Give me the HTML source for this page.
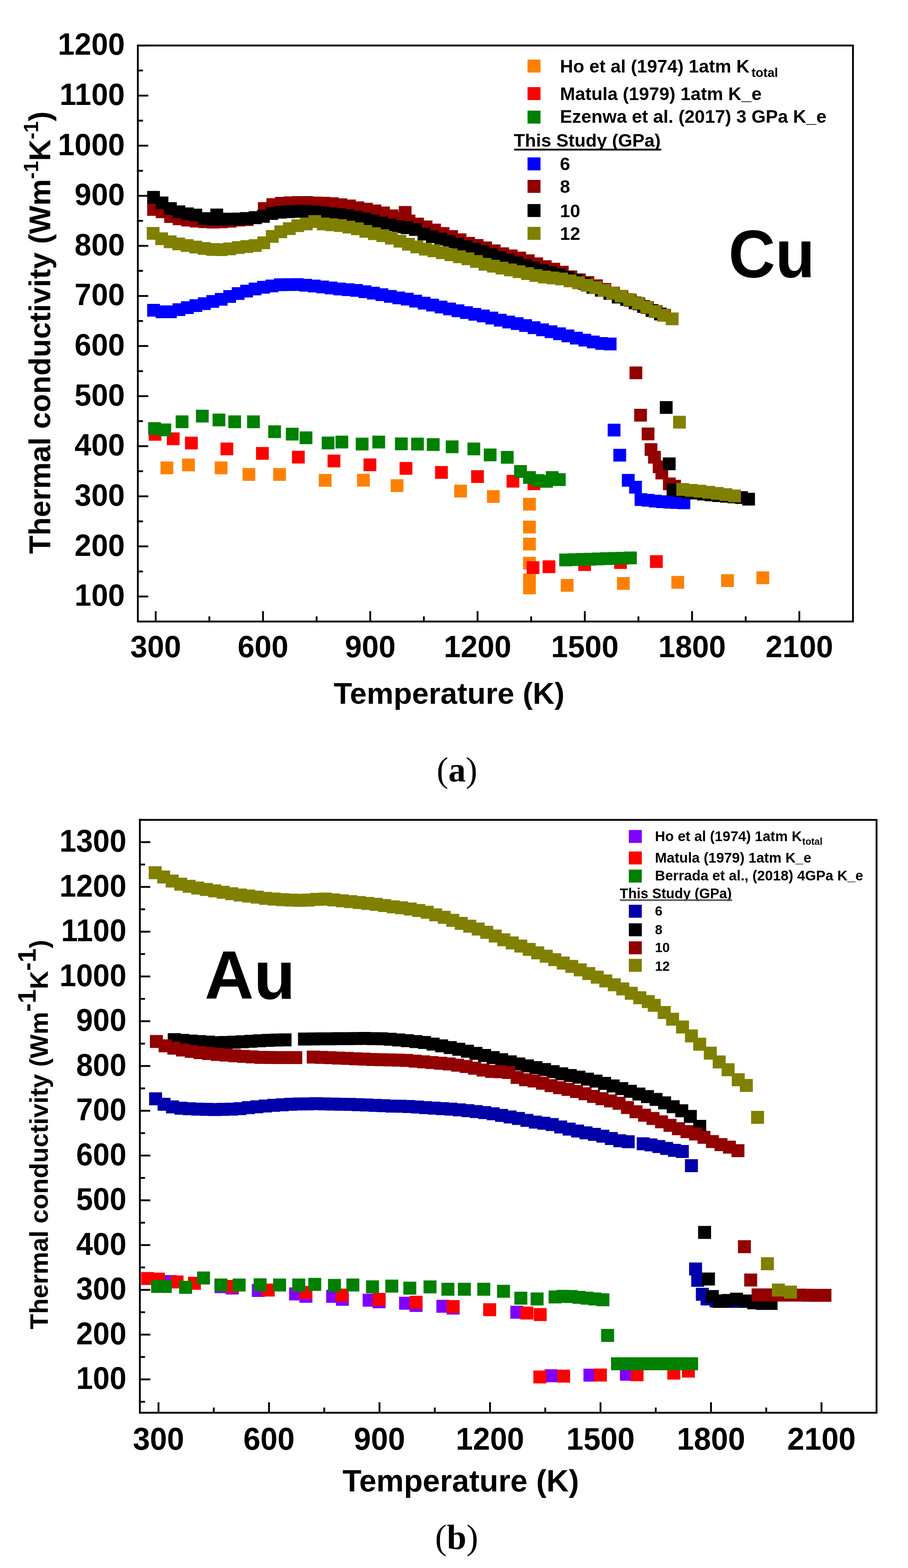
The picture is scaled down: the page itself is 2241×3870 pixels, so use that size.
<!DOCTYPE html>
<html><head><meta charset="utf-8"><title>Thermal conductivity of Cu and Au</title><style>html,body{margin:0;padding:0;background:#fff;}svg{display:block;}</style></head><body>
<svg width="2241" height="3870" viewBox="0 0 2241 3870">
<rect width="2241" height="3870" fill="#fff"/>
<rect x="340.2" y="112.3" width="1765.0" height="1421.7" fill="none" stroke="#000" stroke-width="4.5"/>
<path d="M337.9 1472.2H365.9M337.9 1348.6H365.9M337.9 1224.9H365.9M337.9 1101.3H365.9M337.9 977.7H365.9M337.9 854.1H365.9M337.9 730.4H365.9M337.9 606.8H365.9M337.9 483.2H365.9M337.9 359.6H365.9M337.9 235.9H365.9M337.9 112.3H365.9" stroke="#000" stroke-width="4.5"/>
<path d="M337.9 1410.4H352.9M337.9 1286.7H352.9M337.9 1163.1H352.9M337.9 1039.5H352.9M337.9 915.9H352.9M337.9 792.2H352.9M337.9 668.6H352.9M337.9 545.0H352.9M337.9 421.4H352.9M337.9 297.7H352.9M337.9 174.1H352.9" stroke="#000" stroke-width="4.5"/>
<path d="M384.3 1536.2V1508.2M649.1 1536.2V1508.2M913.8 1536.2V1508.2M1178.6 1536.2V1508.2M1443.3 1536.2V1508.2M1708.1 1536.2V1508.2M1972.8 1536.2V1508.2" stroke="#000" stroke-width="4.5"/>
<path d="M516.7 1536.2V1521.2M781.4 1536.2V1521.2M1046.2 1536.2V1521.2M1310.9 1536.2V1521.2M1575.7 1536.2V1521.2M1840.4 1536.2V1521.2" stroke="#000" stroke-width="4.5"/>
<text transform="translate(308.0 1495.2) scale(0.971 1.000)" font-size="76.5" text-anchor="end" font-family="'Liberation Sans', Arial, sans-serif" font-weight="bold" >100</text>
<text transform="translate(308.0 1371.6) scale(0.971 1.000)" font-size="76.5" text-anchor="end" font-family="'Liberation Sans', Arial, sans-serif" font-weight="bold" >200</text>
<text transform="translate(308.0 1247.9) scale(0.971 1.000)" font-size="76.5" text-anchor="end" font-family="'Liberation Sans', Arial, sans-serif" font-weight="bold" >300</text>
<text transform="translate(308.0 1124.3) scale(0.971 1.000)" font-size="76.5" text-anchor="end" font-family="'Liberation Sans', Arial, sans-serif" font-weight="bold" >400</text>
<text transform="translate(308.0 1000.7) scale(0.971 1.000)" font-size="76.5" text-anchor="end" font-family="'Liberation Sans', Arial, sans-serif" font-weight="bold" >500</text>
<text transform="translate(308.0 877.1) scale(0.971 1.000)" font-size="76.5" text-anchor="end" font-family="'Liberation Sans', Arial, sans-serif" font-weight="bold" >600</text>
<text transform="translate(308.0 753.4) scale(0.971 1.000)" font-size="76.5" text-anchor="end" font-family="'Liberation Sans', Arial, sans-serif" font-weight="bold" >700</text>
<text transform="translate(308.0 629.8) scale(0.971 1.000)" font-size="76.5" text-anchor="end" font-family="'Liberation Sans', Arial, sans-serif" font-weight="bold" >800</text>
<text transform="translate(308.0 506.2) scale(0.971 1.000)" font-size="76.5" text-anchor="end" font-family="'Liberation Sans', Arial, sans-serif" font-weight="bold" >900</text>
<text transform="translate(308.0 382.6) scale(0.971 1.000)" font-size="76.5" text-anchor="end" font-family="'Liberation Sans', Arial, sans-serif" font-weight="bold" >1000</text>
<text transform="translate(308.0 258.9) scale(0.971 1.000)" font-size="76.5" text-anchor="end" font-family="'Liberation Sans', Arial, sans-serif" font-weight="bold" >1100</text>
<text transform="translate(308.0 135.3) scale(0.971 1.000)" font-size="76.5" text-anchor="end" font-family="'Liberation Sans', Arial, sans-serif" font-weight="bold" >1200</text>
<text transform="translate(384.3 1622.0) scale(0.980 1.000)" font-size="76.5" text-anchor="middle" font-family="'Liberation Sans', Arial, sans-serif" font-weight="bold" >300</text>
<text transform="translate(649.1 1622.0) scale(0.980 1.000)" font-size="76.5" text-anchor="middle" font-family="'Liberation Sans', Arial, sans-serif" font-weight="bold" >600</text>
<text transform="translate(913.8 1622.0) scale(0.980 1.000)" font-size="76.5" text-anchor="middle" font-family="'Liberation Sans', Arial, sans-serif" font-weight="bold" >900</text>
<text transform="translate(1178.6 1622.0) scale(0.980 1.000)" font-size="76.5" text-anchor="middle" font-family="'Liberation Sans', Arial, sans-serif" font-weight="bold" >1200</text>
<text transform="translate(1443.3 1622.0) scale(0.980 1.000)" font-size="76.5" text-anchor="middle" font-family="'Liberation Sans', Arial, sans-serif" font-weight="bold" >1500</text>
<text transform="translate(1708.1 1622.0) scale(0.980 1.000)" font-size="76.5" text-anchor="middle" font-family="'Liberation Sans', Arial, sans-serif" font-weight="bold" >1800</text>
<text transform="translate(1972.8 1622.0) scale(0.980 1.000)" font-size="76.5" text-anchor="middle" font-family="'Liberation Sans', Arial, sans-serif" font-weight="bold" >2100</text>
<text x="823.5" y="1737.0" font-size="74.5" text-anchor="start" font-family="'Liberation Sans', Arial, sans-serif" font-weight="bold" >Temperature (K)</text>
<text transform="translate(124,1367) rotate(-90)" font-size="74" font-family="'Liberation Sans', Arial, sans-serif" font-weight="bold">Thermal conductivity (Wm<tspan font-size="50" dy="-30">-1</tspan><tspan dy="30">K</tspan><tspan font-size="50" dy="-30">-1</tspan><tspan dy="30">)</tspan></text>
<path fill="#FF8000" d="M396.2 1139.0h31.5v31.5h-31.5zM449.4 1131.8h31.5v31.5h-31.5zM530.0 1139.0h31.5v31.5h-31.5zM598.6 1155.2h31.5v31.5h-31.5zM674.2 1155.2h31.5v31.5h-31.5zM786.8 1169.7h31.5v31.5h-31.5zM881.2 1169.5h31.5v31.5h-31.5zM964.2 1182.7h31.5v31.5h-31.5zM1121.0 1196.2h31.5v31.5h-31.5zM1201.8 1209.8h31.5v31.5h-31.5zM1291.0 1228.7h31.5v31.5h-31.5zM1291.0 1285.0h31.5v31.5h-31.5zM1291.0 1327.0h31.5v31.5h-31.5zM1291.0 1374.2h31.5v31.5h-31.5zM1291.0 1415.2h31.5v31.5h-31.5zM1291.0 1435.2h31.5v31.5h-31.5zM1384.0 1429.0h31.5v31.5h-31.5zM1522.8 1424.2h31.5v31.5h-31.5zM1657.0 1421.5h31.5v31.5h-31.5zM1779.8 1417.2h31.5v31.5h-31.5zM1867.0 1410.2h31.5v31.5h-31.5z"/>
<path fill="#FF0000" d="M366.9 1056.2h31.5v31.5h-31.5zM411.8 1067.2h31.5v31.5h-31.5zM456.6 1077.8h31.5v31.5h-31.5zM544.2 1092.2h31.5v31.5h-31.5zM631.9 1103.2h31.5v31.5h-31.5zM720.6 1112.5h31.5v31.5h-31.5zM808.5 1122.0h31.5v31.5h-31.5zM897.2 1131.5h31.5v31.5h-31.5zM986.2 1140.2h31.5v31.5h-31.5zM1073.8 1150.2h31.5v31.5h-31.5zM1162.8 1160.5h31.5v31.5h-31.5zM1250.2 1172.0h31.5v31.5h-31.5zM1302.0 1178.2h31.5v31.5h-31.5zM1299.8 1385.2h31.5v31.5h-31.5zM1339.2 1383.0h31.5v31.5h-31.5zM1427.2 1377.8h31.5v31.5h-31.5zM1515.7 1372.8h31.5v31.5h-31.5zM1604.2 1370.2h31.5v31.5h-31.5z"/>
<path fill="#008000" d="M365.6 1042.0h31.5v31.5h-31.5zM390.9 1045.2h31.5v31.5h-31.5zM433.6 1025.2h31.5v31.5h-31.5zM483.6 1011.2h31.5v31.5h-31.5zM524.6 1020.8h31.5v31.5h-31.5zM563.5 1025.2h31.5v31.5h-31.5zM609.8 1025.2h31.5v31.5h-31.5zM662.0 1049.7h31.5v31.5h-31.5zM705.5 1055.7h31.5v31.5h-31.5zM739.5 1064.8h31.5v31.5h-31.5zM794.0 1077.5h31.5v31.5h-31.5zM828.0 1075.2h31.5v31.5h-31.5zM878.0 1080.2h31.5v31.5h-31.5zM919.0 1075.2h31.5v31.5h-31.5zM974.8 1079.8h31.5v31.5h-31.5zM1014.7 1080.2h31.5v31.5h-31.5zM1053.5 1081.5h31.5v31.5h-31.5zM1100.2 1087.0h31.5v31.5h-31.5zM1153.7 1092.2h31.5v31.5h-31.5zM1194.0 1107.0h31.5v31.5h-31.5zM1236.2 1113.0h31.5v31.5h-31.5zM1268.8 1148.0h31.5v31.5h-31.5zM1291.0 1162.7h31.5v31.5h-31.5zM1311.8 1170.2h31.5v31.5h-31.5zM1333.2 1172.2h31.5v31.5h-31.5zM1347.2 1162.7h31.5v31.5h-31.5zM1364.7 1168.0h31.5v31.5h-31.5zM1380.2 1366.2h31.5v31.5h-31.5zM1400.2 1365.6h31.5v31.5h-31.5zM1420.2 1365.0h31.5v31.5h-31.5zM1440.2 1364.4h31.5v31.5h-31.5zM1460.2 1363.8h31.5v31.5h-31.5zM1480.2 1363.1h31.5v31.5h-31.5zM1500.2 1362.5h31.5v31.5h-31.5zM1520.2 1361.9h31.5v31.5h-31.5zM1540.2 1361.2h31.5v31.5h-31.5z"/>
<path fill="#0000FF" d="M363.2 749.9h31.5v31.5h-31.5zM384.1 753.8h31.5v31.5h-31.5zM405.0 753.8h31.5v31.5h-31.5zM425.9 748.4h31.5v31.5h-31.5zM446.7 743.4h31.5v31.5h-31.5zM467.6 738.6h31.5v31.5h-31.5zM488.5 733.7h31.5v31.5h-31.5zM509.3 728.3h31.5v31.5h-31.5zM530.2 723.0h31.5v31.5h-31.5zM551.1 715.9h31.5v31.5h-31.5zM572.0 708.8h31.5v31.5h-31.5zM592.8 702.8h31.5v31.5h-31.5zM613.7 697.4h31.5v31.5h-31.5zM634.6 693.2h31.5v31.5h-31.5zM655.4 689.9h31.5v31.5h-31.5zM676.3 686.9h31.5v31.5h-31.5zM697.2 686.8h31.5v31.5h-31.5zM718.0 686.6h31.5v31.5h-31.5zM738.9 688.2h31.5v31.5h-31.5zM759.8 690.2h31.5v31.5h-31.5zM780.7 692.5h31.5v31.5h-31.5zM801.5 695.0h31.5v31.5h-31.5zM822.4 697.4h31.5v31.5h-31.5zM843.3 699.2h31.5v31.5h-31.5zM864.1 701.1h31.5v31.5h-31.5zM885.0 704.3h31.5v31.5h-31.5zM905.9 707.7h31.5v31.5h-31.5zM926.8 711.5h31.5v31.5h-31.5zM947.6 715.7h31.5v31.5h-31.5zM968.5 719.4h31.5v31.5h-31.5zM989.4 722.5h31.5v31.5h-31.5zM1010.2 727.4h31.5v31.5h-31.5zM1031.1 732.4h31.5v31.5h-31.5zM1052.0 737.2h31.5v31.5h-31.5zM1072.8 742.0h31.5v31.5h-31.5zM1093.7 746.7h31.5v31.5h-31.5zM1114.6 751.3h31.5v31.5h-31.5zM1135.5 755.7h31.5v31.5h-31.5zM1156.3 759.9h31.5v31.5h-31.5zM1177.2 764.1h31.5v31.5h-31.5zM1198.1 769.3h31.5v31.5h-31.5zM1218.9 774.5h31.5v31.5h-31.5zM1239.8 779.0h31.5v31.5h-31.5zM1260.7 783.1h31.5v31.5h-31.5zM1281.5 787.8h31.5v31.5h-31.5zM1302.4 793.0h31.5v31.5h-31.5zM1323.3 798.2h31.5v31.5h-31.5zM1344.2 803.1h31.5v31.5h-31.5zM1365.0 808.0h31.5v31.5h-31.5zM1385.9 813.3h31.5v31.5h-31.5zM1406.8 818.8h31.5v31.5h-31.5zM1427.6 823.7h31.5v31.5h-31.5zM1448.5 828.3h31.5v31.5h-31.5zM1469.4 832.0h31.5v31.5h-31.5zM1490.2 833.2h31.5v31.5h-31.5zM1499.8 1045.8h31.5v31.5h-31.5zM1513.8 1107.8h31.5v31.5h-31.5zM1534.8 1169.8h31.5v31.5h-31.5zM1552.8 1186.8h31.5v31.5h-31.5zM1566.2 1217.2h31.5v31.5h-31.5zM1583.9 1219.1h31.5v31.5h-31.5zM1601.6 1221.0h31.5v31.5h-31.5zM1619.2 1222.4h31.5v31.5h-31.5zM1636.9 1223.7h31.5v31.5h-31.5zM1654.6 1224.6h31.5v31.5h-31.5zM1672.2 1225.2h31.5v31.5h-31.5z"/>
<path fill="#930000" d="M363.2 501.2h31.5v31.5h-31.5zM384.3 507.1h31.5v31.5h-31.5zM405.3 518.8h31.5v31.5h-31.5zM426.3 524.3h31.5v31.5h-31.5zM447.3 527.5h31.5v31.5h-31.5zM468.3 530.1h31.5v31.5h-31.5zM489.4 531.6h31.5v31.5h-31.5zM510.4 532.5h31.5v31.5h-31.5zM531.4 531.7h31.5v31.5h-31.5zM552.4 530.2h31.5v31.5h-31.5zM573.4 527.4h31.5v31.5h-31.5zM594.4 526.2h31.5v31.5h-31.5zM615.5 521.1h31.5v31.5h-31.5zM636.5 499.1h31.5v31.5h-31.5zM657.5 489.3h31.5v31.5h-31.5zM678.5 486.0h31.5v31.5h-31.5zM699.5 484.8h31.5v31.5h-31.5zM720.5 484.1h31.5v31.5h-31.5zM741.5 484.1h31.5v31.5h-31.5zM762.6 485.2h31.5v31.5h-31.5zM783.6 485.7h31.5v31.5h-31.5zM804.6 487.1h31.5v31.5h-31.5zM825.6 489.4h31.5v31.5h-31.5zM846.6 492.6h31.5v31.5h-31.5zM867.6 497.0h31.5v31.5h-31.5zM888.7 500.5h31.5v31.5h-31.5zM909.7 504.8h31.5v31.5h-31.5zM930.7 509.8h31.5v31.5h-31.5zM951.7 517.0h31.5v31.5h-31.5zM972.7 523.5h31.5v31.5h-31.5zM993.8 529.7h31.5v31.5h-31.5zM1014.8 537.2h31.5v31.5h-31.5zM1035.8 544.3h31.5v31.5h-31.5zM1056.8 551.9h31.5v31.5h-31.5zM1077.8 560.6h31.5v31.5h-31.5zM1098.8 567.9h31.5v31.5h-31.5zM1119.8 576.0h31.5v31.5h-31.5zM1140.9 584.7h31.5v31.5h-31.5zM1161.9 590.1h31.5v31.5h-31.5zM1182.9 596.0h31.5v31.5h-31.5zM1203.9 603.3h31.5v31.5h-31.5zM1224.9 610.4h31.5v31.5h-31.5zM1246.0 615.7h31.5v31.5h-31.5zM1267.0 620.9h31.5v31.5h-31.5zM1288.0 627.8h31.5v31.5h-31.5zM1309.0 635.3h31.5v31.5h-31.5zM1330.0 642.2h31.5v31.5h-31.5zM1351.0 648.5h31.5v31.5h-31.5zM1372.0 656.1h31.5v31.5h-31.5zM1393.1 667.4h31.5v31.5h-31.5zM1414.1 675.0h31.5v31.5h-31.5zM1435.1 681.4h31.5v31.5h-31.5zM1456.1 689.4h31.5v31.5h-31.5zM1477.1 698.5h31.5v31.5h-31.5zM1498.2 707.5h31.5v31.5h-31.5zM1519.2 716.6h31.5v31.5h-31.5zM1540.2 725.5h31.5v31.5h-31.5zM1561.2 734.5h31.5v31.5h-31.5zM1582.2 743.4h31.5v31.5h-31.5zM1603.2 752.8h31.5v31.5h-31.5zM1624.2 762.2h31.5v31.5h-31.5zM984.2 508.5h31.5v31.5h-31.5zM1553.7 904.5h31.5v31.5h-31.5zM1565.2 1009.0h31.5v31.5h-31.5zM1583.7 1055.2h31.5v31.5h-31.5zM1591.0 1093.8h31.5v31.5h-31.5zM1599.5 1112.8h31.5v31.5h-31.5zM1611.0 1136.2h31.5v31.5h-31.5zM1617.7 1151.8h31.5v31.5h-31.5zM1636.2 1178.5h31.5v31.5h-31.5zM1649.2 1184.2h31.5v31.5h-31.5z"/>
<path fill="#000000" d="M363.2 471.2h31.5v31.5h-31.5zM384.1 485.0h31.5v31.5h-31.5zM404.9 499.1h31.5v31.5h-31.5zM425.8 507.0h31.5v31.5h-31.5zM446.6 511.9h31.5v31.5h-31.5zM467.5 515.0h31.5v31.5h-31.5zM488.4 523.8h31.5v31.5h-31.5zM509.2 525.2h31.5v31.5h-31.5zM530.0 525.2h31.5v31.5h-31.5zM550.9 525.1h31.5v31.5h-31.5zM571.8 524.8h31.5v31.5h-31.5zM592.6 523.6h31.5v31.5h-31.5zM613.5 521.8h31.5v31.5h-31.5zM634.3 518.2h31.5v31.5h-31.5zM655.1 511.3h31.5v31.5h-31.5zM676.0 508.1h31.5v31.5h-31.5zM696.9 506.7h31.5v31.5h-31.5zM717.7 506.1h31.5v31.5h-31.5zM738.5 505.8h31.5v31.5h-31.5zM759.4 507.3h31.5v31.5h-31.5zM780.2 509.6h31.5v31.5h-31.5zM801.1 512.0h31.5v31.5h-31.5zM822.0 514.1h31.5v31.5h-31.5zM842.8 516.4h31.5v31.5h-31.5zM863.6 520.5h31.5v31.5h-31.5zM884.5 524.6h31.5v31.5h-31.5zM905.4 529.5h31.5v31.5h-31.5zM926.2 534.7h31.5v31.5h-31.5zM947.0 539.6h31.5v31.5h-31.5zM967.9 543.9h31.5v31.5h-31.5zM988.8 546.2h31.5v31.5h-31.5zM1009.6 550.7h31.5v31.5h-31.5zM1030.5 562.1h31.5v31.5h-31.5zM1051.3 568.4h31.5v31.5h-31.5zM1072.2 574.6h31.5v31.5h-31.5zM1093.0 580.8h31.5v31.5h-31.5zM1113.8 587.0h31.5v31.5h-31.5zM1134.7 593.1h31.5v31.5h-31.5zM1155.5 599.2h31.5v31.5h-31.5zM1176.4 605.3h31.5v31.5h-31.5zM1197.2 612.7h31.5v31.5h-31.5zM1218.1 620.1h31.5v31.5h-31.5zM1239.0 626.7h31.5v31.5h-31.5zM1259.8 633.0h31.5v31.5h-31.5zM1280.7 639.3h31.5v31.5h-31.5zM1301.5 645.6h31.5v31.5h-31.5zM1322.3 651.8h31.5v31.5h-31.5zM1343.2 657.0h31.5v31.5h-31.5zM1364.0 662.2h31.5v31.5h-31.5zM1384.9 668.7h31.5v31.5h-31.5zM1405.8 675.5h31.5v31.5h-31.5zM1426.6 684.0h31.5v31.5h-31.5zM1447.5 693.4h31.5v31.5h-31.5zM1468.3 700.8h31.5v31.5h-31.5zM1489.2 708.5h31.5v31.5h-31.5zM1510.0 717.5h31.5v31.5h-31.5zM1530.8 723.4h31.5v31.5h-31.5zM1551.7 731.7h31.5v31.5h-31.5zM1572.5 740.7h31.5v31.5h-31.5zM1593.4 750.5h31.5v31.5h-31.5zM1614.2 759.2h31.5v31.5h-31.5zM519.2 514.8h31.5v31.5h-31.5zM1628.5 989.9h31.5v31.5h-31.5zM1636.0 1129.0h31.5v31.5h-31.5zM1645.2 1193.2h31.5v31.5h-31.5zM1664.2 1195.2h31.5v31.5h-31.5zM1683.0 1198.4h31.5v31.5h-31.5zM1701.8 1201.2h31.5v31.5h-31.5zM1720.5 1203.8h31.5v31.5h-31.5zM1739.2 1205.8h31.5v31.5h-31.5zM1758.0 1207.6h31.5v31.5h-31.5zM1776.8 1209.1h31.5v31.5h-31.5zM1795.5 1210.7h31.5v31.5h-31.5zM1814.2 1212.2h31.5v31.5h-31.5zM1831.8 1216.2h31.5v31.5h-31.5z"/>
<path fill="#808000" d="M362.2 560.2h31.5v31.5h-31.5zM383.2 573.4h31.5v31.5h-31.5zM404.2 581.1h31.5v31.5h-31.5zM425.2 586.3h31.5v31.5h-31.5zM446.2 590.3h31.5v31.5h-31.5zM467.2 594.0h31.5v31.5h-31.5zM488.2 597.6h31.5v31.5h-31.5zM509.2 600.1h31.5v31.5h-31.5zM530.2 600.6h31.5v31.5h-31.5zM551.2 598.4h31.5v31.5h-31.5zM572.2 595.2h31.5v31.5h-31.5zM593.2 592.8h31.5v31.5h-31.5zM614.2 590.3h31.5v31.5h-31.5zM635.2 583.4h31.5v31.5h-31.5zM656.2 567.8h31.5v31.5h-31.5zM677.2 556.2h31.5v31.5h-31.5zM698.2 548.6h31.5v31.5h-31.5zM719.2 541.3h31.5v31.5h-31.5zM740.2 536.9h31.5v31.5h-31.5zM761.2 531.0h31.5v31.5h-31.5zM782.2 537.1h31.5v31.5h-31.5zM803.2 539.1h31.5v31.5h-31.5zM824.2 541.1h31.5v31.5h-31.5zM845.2 544.7h31.5v31.5h-31.5zM866.2 549.0h31.5v31.5h-31.5zM887.2 555.2h31.5v31.5h-31.5zM908.2 561.0h31.5v31.5h-31.5zM929.2 566.1h31.5v31.5h-31.5zM950.2 572.1h31.5v31.5h-31.5zM971.2 579.6h31.5v31.5h-31.5zM992.2 586.9h31.5v31.5h-31.5zM1013.2 593.7h31.5v31.5h-31.5zM1034.2 599.2h31.5v31.5h-31.5zM1055.2 603.3h31.5v31.5h-31.5zM1076.2 607.9h31.5v31.5h-31.5zM1097.2 613.1h31.5v31.5h-31.5zM1118.2 618.1h31.5v31.5h-31.5zM1139.2 623.1h31.5v31.5h-31.5zM1160.2 629.5h31.5v31.5h-31.5zM1181.2 636.4h31.5v31.5h-31.5zM1202.2 641.2h31.5v31.5h-31.5zM1223.2 646.0h31.5v31.5h-31.5zM1244.2 650.4h31.5v31.5h-31.5zM1265.2 654.8h31.5v31.5h-31.5zM1286.2 659.5h31.5v31.5h-31.5zM1307.2 664.3h31.5v31.5h-31.5zM1328.2 668.1h31.5v31.5h-31.5zM1349.2 670.3h31.5v31.5h-31.5zM1370.2 672.7h31.5v31.5h-31.5zM1391.2 677.5h31.5v31.5h-31.5zM1412.2 682.3h31.5v31.5h-31.5zM1433.2 688.2h31.5v31.5h-31.5zM1454.2 694.3h31.5v31.5h-31.5zM1475.2 700.9h31.5v31.5h-31.5zM1496.2 707.9h31.5v31.5h-31.5zM1517.2 715.3h31.5v31.5h-31.5zM1538.2 724.1h31.5v31.5h-31.5zM1559.2 732.8h31.5v31.5h-31.5zM1580.2 742.8h31.5v31.5h-31.5zM1601.2 752.9h31.5v31.5h-31.5zM1622.2 762.2h31.5v31.5h-31.5zM1643.2 771.2h31.5v31.5h-31.5zM1661.2 1026.2h31.5v31.5h-31.5zM1669.2 1192.2h31.5v31.5h-31.5zM1690.6 1194.4h31.5v31.5h-31.5zM1711.9 1196.6h31.5v31.5h-31.5zM1733.2 1199.2h31.5v31.5h-31.5zM1754.6 1202.0h31.5v31.5h-31.5zM1775.9 1205.1h31.5v31.5h-31.5zM1797.2 1208.2h31.5v31.5h-31.5z"/>
<rect x="1302.0" y="147.0" width="32" height="32" fill="#FF8000"/>
<rect x="1302.0" y="215.0" width="32" height="32" fill="#FF0000"/>
<rect x="1302.0" y="273.0" width="32" height="32" fill="#008000"/>
<rect x="1302.0" y="388.5" width="32" height="32" fill="#0000FF"/>
<rect x="1302.0" y="444.0" width="32" height="32" fill="#930000"/>
<rect x="1302.0" y="503.6" width="32" height="32" fill="#000000"/>
<rect x="1302.0" y="560.0" width="32" height="32" fill="#808000"/>
<text x="1382.0" y="178.8" font-size="45.0" text-anchor="start" font-family="'Liberation Sans', Arial, sans-serif" font-weight="bold" >Ho et al (1974) 1atm K<tspan font-size="31" dx="5" dy="11">total</tspan></text>
<text x="1382.0" y="246.5" font-size="45.0" text-anchor="start" font-family="'Liberation Sans', Arial, sans-serif" font-weight="bold" >Matula (1979) 1atm K_e</text>
<text x="1382.0" y="303.3" font-size="45.0" text-anchor="start" font-family="'Liberation Sans', Arial, sans-serif" font-weight="bold" >Ezenwa et al. (2017) 3 GPa K_e</text>
<text x="1268.0" y="361.7" font-size="45.0" text-anchor="start" font-family="'Liberation Sans', Arial, sans-serif" font-weight="bold" >This Study (GPa)</text>
<rect x="1269" y="367" width="363" height="4.5" fill="#000"/>
<text x="1382.0" y="419.6" font-size="45.0" text-anchor="start" font-family="'Liberation Sans', Arial, sans-serif" font-weight="bold" >6</text>
<text x="1382.0" y="476.2" font-size="45.0" text-anchor="start" font-family="'Liberation Sans', Arial, sans-serif" font-weight="bold" >8</text>
<text x="1382.0" y="535.8" font-size="45.0" text-anchor="start" font-family="'Liberation Sans', Arial, sans-serif" font-weight="bold" >10</text>
<text x="1382.0" y="592.0" font-size="45.0" text-anchor="start" font-family="'Liberation Sans', Arial, sans-serif" font-weight="bold" >12</text>
<text transform="translate(1798.0 684.0) scale(1.000 1.040)" font-size="160.0" text-anchor="start" font-family="'Liberation Sans', Arial, sans-serif" font-weight="bold" >Cu</text>
<text x="1128" y="1929" font-size="86" text-anchor="middle" font-family="'Liberation Serif', 'Times New Roman', serif" font-weight="bold"><tspan font-weight="normal">(</tspan>a<tspan font-weight="normal">)</tspan></text>
<rect x="345.2" y="2023.6" width="1818.2" height="1463.2" fill="none" stroke="#000" stroke-width="4.5"/>
<path d="M342.9 3404.5H370.9M342.9 3294.0H370.9M342.9 3183.5H370.9M342.9 3073.0H370.9M342.9 2962.5H370.9M342.9 2852.0H370.9M342.9 2741.5H370.9M342.9 2631.0H370.9M342.9 2520.5H370.9M342.9 2410.0H370.9M342.9 2299.5H370.9M342.9 2189.0H370.9M342.9 2078.5H370.9" stroke="#000" stroke-width="4.5"/>
<path d="M342.9 3459.8H357.9M342.9 3349.2H357.9M342.9 3238.8H357.9M342.9 3128.2H357.9M342.9 3017.8H357.9M342.9 2907.2H357.9M342.9 2796.8H357.9M342.9 2686.2H357.9M342.9 2575.8H357.9M342.9 2465.2H357.9M342.9 2354.8H357.9M342.9 2244.2H357.9M342.9 2133.8H357.9M342.9 2023.2H357.9" stroke="#000" stroke-width="4.5"/>
<path d="M391.2 3489.1V3461.1M663.9 3489.1V3461.1M936.6 3489.1V3461.1M1209.4 3489.1V3461.1M1482.1 3489.1V3461.1M1754.8 3489.1V3461.1M2027.5 3489.1V3461.1" stroke="#000" stroke-width="4.5"/>
<path d="M527.6 3489.1V3474.1M800.3 3489.1V3474.1M1073.0 3489.1V3474.1M1345.7 3489.1V3474.1M1618.4 3489.1V3474.1M1891.1 3489.1V3474.1" stroke="#000" stroke-width="4.5"/>
<text transform="translate(312.0 3428.0) scale(0.953 1.000)" font-size="78.0" text-anchor="end" font-family="'Liberation Sans', Arial, sans-serif" font-weight="bold" >100</text>
<text transform="translate(312.0 3317.5) scale(0.953 1.000)" font-size="78.0" text-anchor="end" font-family="'Liberation Sans', Arial, sans-serif" font-weight="bold" >200</text>
<text transform="translate(312.0 3207.0) scale(0.953 1.000)" font-size="78.0" text-anchor="end" font-family="'Liberation Sans', Arial, sans-serif" font-weight="bold" >300</text>
<text transform="translate(312.0 3096.5) scale(0.953 1.000)" font-size="78.0" text-anchor="end" font-family="'Liberation Sans', Arial, sans-serif" font-weight="bold" >400</text>
<text transform="translate(312.0 2986.0) scale(0.953 1.000)" font-size="78.0" text-anchor="end" font-family="'Liberation Sans', Arial, sans-serif" font-weight="bold" >500</text>
<text transform="translate(312.0 2875.5) scale(0.953 1.000)" font-size="78.0" text-anchor="end" font-family="'Liberation Sans', Arial, sans-serif" font-weight="bold" >600</text>
<text transform="translate(312.0 2765.0) scale(0.953 1.000)" font-size="78.0" text-anchor="end" font-family="'Liberation Sans', Arial, sans-serif" font-weight="bold" >700</text>
<text transform="translate(312.0 2654.5) scale(0.953 1.000)" font-size="78.0" text-anchor="end" font-family="'Liberation Sans', Arial, sans-serif" font-weight="bold" >800</text>
<text transform="translate(312.0 2544.0) scale(0.953 1.000)" font-size="78.0" text-anchor="end" font-family="'Liberation Sans', Arial, sans-serif" font-weight="bold" >900</text>
<text transform="translate(312.0 2433.5) scale(0.953 1.000)" font-size="78.0" text-anchor="end" font-family="'Liberation Sans', Arial, sans-serif" font-weight="bold" >1000</text>
<text transform="translate(312.0 2323.0) scale(0.953 1.000)" font-size="78.0" text-anchor="end" font-family="'Liberation Sans', Arial, sans-serif" font-weight="bold" >1100</text>
<text transform="translate(312.0 2212.5) scale(0.953 1.000)" font-size="78.0" text-anchor="end" font-family="'Liberation Sans', Arial, sans-serif" font-weight="bold" >1200</text>
<text transform="translate(312.0 2102.0) scale(0.953 1.000)" font-size="78.0" text-anchor="end" font-family="'Liberation Sans', Arial, sans-serif" font-weight="bold" >1300</text>
<text transform="translate(391.2 3578.0) scale(0.967 1.000)" font-size="78.5" text-anchor="middle" font-family="'Liberation Sans', Arial, sans-serif" font-weight="bold" >300</text>
<text transform="translate(663.9 3578.0) scale(0.967 1.000)" font-size="78.5" text-anchor="middle" font-family="'Liberation Sans', Arial, sans-serif" font-weight="bold" >600</text>
<text transform="translate(936.6 3578.0) scale(0.967 1.000)" font-size="78.5" text-anchor="middle" font-family="'Liberation Sans', Arial, sans-serif" font-weight="bold" >900</text>
<text transform="translate(1209.4 3578.0) scale(0.967 1.000)" font-size="78.5" text-anchor="middle" font-family="'Liberation Sans', Arial, sans-serif" font-weight="bold" >1200</text>
<text transform="translate(1482.1 3578.0) scale(0.967 1.000)" font-size="78.5" text-anchor="middle" font-family="'Liberation Sans', Arial, sans-serif" font-weight="bold" >1500</text>
<text transform="translate(1754.8 3578.0) scale(0.967 1.000)" font-size="78.5" text-anchor="middle" font-family="'Liberation Sans', Arial, sans-serif" font-weight="bold" >1800</text>
<text transform="translate(2027.5 3578.0) scale(0.967 1.000)" font-size="78.5" text-anchor="middle" font-family="'Liberation Sans', Arial, sans-serif" font-weight="bold" >2100</text>
<text x="845.5" y="3681.4" font-size="76.3" text-anchor="start" font-family="'Liberation Sans', Arial, sans-serif" font-weight="bold" >Temperature (K)</text>
<text transform="translate(118,3281) rotate(-90)" font-size="62.7" font-family="'Liberation Sans', Arial, sans-serif" font-weight="bold">Thermal conductivity (Wm<tspan dy="-30">-1</tspan><tspan dy="30">K</tspan><tspan dy="-30">-1</tspan><tspan dy="30">)</tspan></text>
<path fill="#8000FF" d="M404.0 3147.0h32v32h-32zM529.6 3159.8h32v32h-32zM557.4 3163.0h32v32h-32zM621.5 3169.0h32v32h-32zM713.5 3177.5h32v32h-32zM739.0 3183.5h32v32h-32zM805.0 3183.5h32v32h-32zM829.0 3190.8h32v32h-32zM895.0 3193.0h32v32h-32zM919.7 3197.0h32v32h-32zM985.0 3200.5h32v32h-32zM1010.8 3206.0h32v32h-32zM1077.0 3208.0h32v32h-32zM1102.3 3212.5h32v32h-32zM1259.5 3222.7h32v32h-32zM1344.0 3379.5h32v32h-32zM1440.0 3378.0h32v32h-32zM1530.0 3375.7h32v32h-32z"/>
<path fill="#FF0000" d="M348.3 3139.5h32v32h-32zM375.0 3141.0h32v32h-32zM421.0 3148.0h32v32h-32zM463.8 3151.3h32v32h-32zM557.4 3159.0h32v32h-32zM646.0 3168.0h32v32h-32zM738.7 3174.0h32v32h-32zM828.0 3180.5h32v32h-32zM919.7 3191.0h32v32h-32zM1010.8 3198.2h32v32h-32zM1102.3 3208.7h32v32h-32zM1192.5 3216.4h32v32h-32zM1284.3 3224.7h32v32h-32zM1317.3 3228.5h32v32h-32zM1316.4 3382.5h32v32h-32zM1375.0 3380.5h32v32h-32zM1465.9 3377.8h32v32h-32zM1556.3 3377.0h32v32h-32zM1647.0 3373.0h32v32h-32zM1683.0 3368.0h32v32h-32z"/>
<path fill="#008000" d="M373.0 3159.0h32v32h-32zM392.0 3159.0h32v32h-32zM442.0 3161.3h32v32h-32zM486.3 3138.3h32v32h-32zM529.3 3155.4h32v32h-32zM574.2 3155.4h32v32h-32zM626.0 3155.0h32v32h-32zM674.0 3155.4h32v32h-32zM721.3 3155.4h32v32h-32zM760.8 3154.0h32v32h-32zM809.5 3156.5h32v32h-32zM854.9 3155.4h32v32h-32zM903.4 3160.0h32v32h-32zM951.0 3158.2h32v32h-32zM995.4 3163.3h32v32h-32zM1045.3 3160.3h32v32h-32zM1089.5 3166.0h32v32h-32zM1130.0 3166.0h32v32h-32zM1178.0 3166.0h32v32h-32zM1226.7 3171.0h32v32h-32zM1269.5 3188.0h32v32h-32zM1309.6 3190.0h32v32h-32zM1354.0 3185.0h32v32h-32zM1373.7 3183.4h32v32h-32zM1393.3 3184.1h32v32h-32zM1413.0 3185.9h32v32h-32zM1432.7 3187.9h32v32h-32zM1452.3 3189.9h32v32h-32zM1472.0 3192.0h32v32h-32zM1483.6 3280.0h32v32h-32zM1508.0 3350.0h32v32h-32zM1528.3 3350.0h32v32h-32zM1548.7 3350.0h32v32h-32zM1569.0 3350.0h32v32h-32zM1589.3 3350.0h32v32h-32zM1609.7 3350.0h32v32h-32zM1630.0 3350.0h32v32h-32zM1650.3 3350.0h32v32h-32zM1670.7 3350.0h32v32h-32zM1691.0 3350.0h32v32h-32z"/>
<path fill="#0000AA" d="M368.0 2696.0h32v32h-32zM388.8 2709.6h32v32h-32zM409.7 2716.1h32v32h-32zM430.5 2719.3h32v32h-32zM451.3 2720.4h32v32h-32zM472.2 2721.5h32v32h-32zM493.0 2721.9h32v32h-32zM513.8 2722.4h32v32h-32zM534.6 2722.1h32v32h-32zM555.5 2721.4h32v32h-32zM576.3 2720.2h32v32h-32zM597.1 2717.8h32v32h-32zM618.0 2715.7h32v32h-32zM638.8 2713.8h32v32h-32zM659.6 2712.1h32v32h-32zM680.5 2710.7h32v32h-32zM701.3 2709.6h32v32h-32zM722.1 2708.8h32v32h-32zM742.9 2708.4h32v32h-32zM763.8 2708.0h32v32h-32zM784.6 2708.5h32v32h-32zM805.4 2708.9h32v32h-32zM826.3 2709.4h32v32h-32zM847.1 2709.8h32v32h-32zM867.9 2710.5h32v32h-32zM888.8 2711.3h32v32h-32zM909.6 2712.2h32v32h-32zM930.4 2713.0h32v32h-32zM951.2 2713.9h32v32h-32zM972.1 2714.2h32v32h-32zM992.9 2714.9h32v32h-32zM1013.7 2716.3h32v32h-32zM1034.6 2717.7h32v32h-32zM1055.4 2719.0h32v32h-32zM1076.2 2720.3h32v32h-32zM1097.1 2721.6h32v32h-32zM1117.9 2723.3h32v32h-32zM1138.7 2725.2h32v32h-32zM1159.6 2727.5h32v32h-32zM1180.4 2730.0h32v32h-32zM1201.2 2733.1h32v32h-32zM1222.0 2736.9h32v32h-32zM1242.9 2740.7h32v32h-32zM1263.7 2744.5h32v32h-32zM1284.5 2749.2h32v32h-32zM1305.4 2753.6h32v32h-32zM1326.2 2756.2h32v32h-32zM1347.0 2759.5h32v32h-32zM1367.9 2765.5h32v32h-32zM1388.7 2770.7h32v32h-32zM1409.5 2775.6h32v32h-32zM1430.3 2779.9h32v32h-32zM1451.2 2783.7h32v32h-32zM1472.0 2788.3h32v32h-32zM1492.8 2794.0h32v32h-32zM1513.7 2799.4h32v32h-32zM1534.5 2802.0h32v32h-32zM1571.5 2807.0h32v32h-32zM1590.8 2809.8h32v32h-32zM1610.1 2813.8h32v32h-32zM1629.4 2818.4h32v32h-32zM1648.7 2823.2h32v32h-32zM1668.0 2826.0h32v32h-32zM1690.5 2861.0h32v32h-32zM1700.7 3116.0h32v32h-32zM1706.0 3144.0h32v32h-32zM1717.5 3178.5h32v32h-32zM1729.0 3190.0h32v32h-32zM1751.5 3195.1h32v32h-32zM1774.0 3196.0h32v32h-32zM1796.5 3196.0h32v32h-32zM1819.0 3196.0h32v32h-32z"/>
<path fill="#000000" d="M414.0 2550.0h32v32h-32zM435.0 2551.7h32v32h-32zM456.1 2553.4h32v32h-32zM477.1 2554.8h32v32h-32zM498.2 2556.1h32v32h-32zM519.2 2557.4h32v32h-32zM540.2 2556.9h32v32h-32zM561.3 2556.2h32v32h-32zM582.3 2555.2h32v32h-32zM603.3 2553.9h32v32h-32zM624.4 2552.7h32v32h-32zM645.4 2551.8h32v32h-32zM666.5 2550.9h32v32h-32zM687.5 2550.5h32v32h-32zM735.5 2548.5h32v32h-32zM756.7 2548.3h32v32h-32zM777.8 2548.1h32v32h-32zM799.0 2547.9h32v32h-32zM820.1 2547.6h32v32h-32zM841.3 2547.4h32v32h-32zM862.5 2547.2h32v32h-32zM883.6 2547.0h32v32h-32zM904.8 2547.4h32v32h-32zM926.0 2547.8h32v32h-32zM947.1 2549.0h32v32h-32zM968.3 2550.7h32v32h-32zM989.4 2552.6h32v32h-32zM1010.6 2554.8h32v32h-32zM1031.8 2557.0h32v32h-32zM1052.9 2561.1h32v32h-32zM1074.1 2565.3h32v32h-32zM1095.3 2569.5h32v32h-32zM1116.4 2573.7h32v32h-32zM1137.6 2578.4h32v32h-32zM1158.7 2583.7h32v32h-32zM1179.9 2589.0h32v32h-32zM1201.1 2594.3h32v32h-32zM1222.2 2599.6h32v32h-32zM1243.4 2604.8h32v32h-32zM1264.6 2610.1h32v32h-32zM1285.7 2614.8h32v32h-32zM1306.9 2619.0h32v32h-32zM1328.0 2623.7h32v32h-32zM1349.2 2629.0h32v32h-32zM1370.4 2634.2h32v32h-32zM1391.5 2638.4h32v32h-32zM1412.7 2642.6h32v32h-32zM1433.9 2647.4h32v32h-32zM1455.0 2652.2h32v32h-32zM1476.2 2658.0h32v32h-32zM1497.3 2664.3h32v32h-32zM1518.5 2670.8h32v32h-32zM1539.7 2677.5h32v32h-32zM1560.8 2684.2h32v32h-32zM1582.0 2690.5h32v32h-32zM1603.2 2697.4h32v32h-32zM1624.3 2705.9h32v32h-32zM1645.5 2715.4h32v32h-32zM1666.6 2725.4h32v32h-32zM1687.8 2739.5h32v32h-32zM1711.0 2764.0h32v32h-32zM1723.0 3025.8h32v32h-32zM1732.5 3140.8h32v32h-32zM1742.0 3184.0h32v32h-32zM1759.0 3196.0h32v32h-32zM1780.3 3193.7h32v32h-32zM1801.7 3190.5h32v32h-32zM1823.0 3195.0h32v32h-32zM1844.3 3199.5h32v32h-32zM1865.7 3201.0h32v32h-32zM1887.0 3201.0h32v32h-32z"/>
<path fill="#930000" d="M370.0 2554.5h32v32h-32zM391.5 2565.2h32v32h-32zM413.0 2571.1h32v32h-32zM434.5 2575.4h32v32h-32zM456.0 2578.9h32v32h-32zM477.5 2581.9h32v32h-32zM499.0 2584.3h32v32h-32zM520.5 2586.4h32v32h-32zM542.0 2588.1h32v32h-32zM563.5 2589.7h32v32h-32zM585.0 2591.3h32v32h-32zM606.5 2592.6h32v32h-32zM628.0 2593.7h32v32h-32zM649.5 2594.1h32v32h-32zM671.0 2594.3h32v32h-32zM692.5 2594.3h32v32h-32zM714.0 2594.3h32v32h-32zM757.0 2593.0h32v32h-32zM778.0 2593.8h32v32h-32zM798.9 2594.6h32v32h-32zM819.9 2595.5h32v32h-32zM840.9 2596.3h32v32h-32zM861.8 2597.2h32v32h-32zM882.8 2598.1h32v32h-32zM903.8 2598.9h32v32h-32zM924.7 2599.5h32v32h-32zM945.7 2600.0h32v32h-32zM966.7 2600.6h32v32h-32zM987.6 2601.3h32v32h-32zM1008.6 2603.0h32v32h-32zM1029.6 2604.8h32v32h-32zM1050.5 2606.5h32v32h-32zM1071.5 2608.3h32v32h-32zM1092.5 2610.0h32v32h-32zM1113.4 2612.9h32v32h-32zM1134.4 2616.3h32v32h-32zM1155.4 2620.4h32v32h-32zM1176.3 2625.1h32v32h-32zM1197.3 2628.5h32v32h-32zM1218.3 2629.2h32v32h-32zM1239.2 2631.1h32v32h-32zM1260.2 2643.3h32v32h-32zM1281.2 2649.0h32v32h-32zM1302.1 2652.0h32v32h-32zM1323.1 2657.5h32v32h-32zM1344.0 2663.4h32v32h-32zM1365.0 2668.6h32v32h-32zM1386.0 2672.7h32v32h-32zM1406.9 2677.9h32v32h-32zM1427.9 2683.6h32v32h-32zM1448.9 2690.1h32v32h-32zM1469.8 2695.7h32v32h-32zM1490.8 2701.2h32v32h-32zM1511.8 2706.9h32v32h-32zM1532.7 2717.4h32v32h-32zM1553.7 2727.9h32v32h-32zM1574.7 2736.5h32v32h-32zM1595.6 2744.4h32v32h-32zM1616.6 2752.8h32v32h-32zM1637.6 2761.4h32v32h-32zM1658.5 2769.7h32v32h-32zM1679.5 2776.9h32v32h-32zM1700.5 2782.8h32v32h-32zM1721.4 2791.1h32v32h-32zM1742.4 2801.4h32v32h-32zM1763.4 2808.9h32v32h-32zM1784.3 2815.3h32v32h-32zM1805.3 2824.0h32v32h-32zM1821.3 3061.0h32v32h-32zM1836.7 3143.3h32v32h-32zM1855.0 3180.0h32v32h-32zM1875.6 3180.1h32v32h-32zM1896.2 3180.2h32v32h-32zM1916.9 3180.4h32v32h-32zM1937.5 3180.5h32v32h-32zM1958.1 3180.6h32v32h-32zM1978.8 3180.8h32v32h-32zM1999.4 3180.9h32v32h-32zM2020.0 3181.0h32v32h-32z"/>
<path fill="#808000" d="M367.0 2138.0h32v32h-32zM388.0 2148.5h32v32h-32zM409.0 2158.6h32v32h-32zM429.9 2166.2h32v32h-32zM450.9 2171.4h32v32h-32zM471.9 2175.8h32v32h-32zM492.9 2179.3h32v32h-32zM513.9 2182.8h32v32h-32zM534.9 2186.3h32v32h-32zM555.8 2189.8h32v32h-32zM576.8 2193.0h32v32h-32zM597.8 2195.6h32v32h-32zM618.8 2198.3h32v32h-32zM639.8 2201.3h32v32h-32zM660.8 2203.1h32v32h-32zM681.7 2204.5h32v32h-32zM702.7 2205.6h32v32h-32zM723.7 2206.0h32v32h-32zM744.7 2205.4h32v32h-32zM765.7 2203.8h32v32h-32zM786.7 2203.1h32v32h-32zM807.6 2204.9h32v32h-32zM828.6 2207.3h32v32h-32zM849.6 2209.3h32v32h-32zM870.6 2211.5h32v32h-32zM891.6 2213.7h32v32h-32zM912.6 2216.0h32v32h-32zM933.5 2219.0h32v32h-32zM954.5 2222.2h32v32h-32zM975.5 2224.5h32v32h-32zM996.5 2227.6h32v32h-32zM1017.5 2231.2h32v32h-32zM1038.4 2235.6h32v32h-32zM1059.4 2241.9h32v32h-32zM1080.4 2248.1h32v32h-32zM1101.4 2255.6h32v32h-32zM1122.4 2263.0h32v32h-32zM1143.4 2270.0h32v32h-32zM1164.3 2276.9h32v32h-32zM1185.3 2284.9h32v32h-32zM1206.3 2294.3h32v32h-32zM1227.3 2303.5h32v32h-32zM1248.3 2311.3h32v32h-32zM1269.3 2319.0h32v32h-32zM1290.2 2327.3h32v32h-32zM1311.2 2335.7h32v32h-32zM1332.2 2344.1h32v32h-32zM1353.2 2352.5h32v32h-32zM1374.2 2360.9h32v32h-32zM1395.2 2369.3h32v32h-32zM1416.1 2377.7h32v32h-32zM1437.1 2386.7h32v32h-32zM1458.1 2395.8h32v32h-32zM1479.1 2405.1h32v32h-32zM1500.1 2414.6h32v32h-32zM1521.1 2424.7h32v32h-32zM1542.0 2435.6h32v32h-32zM1563.0 2446.4h32v32h-32zM1584.0 2456.0h32v32h-32zM1598.7 2465.3h32v32h-32zM1623.3 2483.0h32v32h-32zM1644.0 2499.6h32v32h-32zM1668.5 2518.8h32v32h-32zM1690.5 2540.7h32v32h-32zM1711.0 2561.3h32v32h-32zM1737.0 2583.2h32v32h-32zM1759.0 2605.1h32v32h-32zM1781.0 2624.3h32v32h-32zM1806.0 2649.0h32v32h-32zM1826.0 2663.0h32v32h-32zM1853.7 2741.7h32v32h-32zM1878.0 3103.0h32v32h-32zM1905.0 3168.0h32v32h-32zM1935.0 3173.0h32v32h-32z"/>
<rect x="1552.0" y="2048.5" width="32" height="32" fill="#8000FF"/>
<rect x="1552.0" y="2101.5" width="32" height="32" fill="#FF0000"/>
<rect x="1552.0" y="2146.3" width="32" height="32" fill="#008000"/>
<rect x="1552.0" y="2233.0" width="32" height="32" fill="#0000AA"/>
<rect x="1552.0" y="2278.8" width="32" height="32" fill="#000000"/>
<rect x="1552.0" y="2323.3" width="32" height="32" fill="#930000"/>
<rect x="1552.0" y="2366.5" width="32" height="32" fill="#808000"/>
<text x="1616.5" y="2075.5" font-size="34.9" text-anchor="start" font-family="'Liberation Sans', Arial, sans-serif" font-weight="bold" >Ho et al (1974) 1atm K<tspan font-size="23.5" dx="1" dy="9.5">total</tspan></text>
<text x="1616.5" y="2128.8" font-size="34.9" text-anchor="start" font-family="'Liberation Sans', Arial, sans-serif" font-weight="bold" >Matula (1979) 1atm K_e</text>
<text x="1616.5" y="2172.7" font-size="34.9" text-anchor="start" font-family="'Liberation Sans', Arial, sans-serif" font-weight="bold" >Berrada et al., (2018) 4GPa K_e</text>
<text x="1529.5" y="2216.6" font-size="34.3" text-anchor="start" font-family="'Liberation Sans', Arial, sans-serif" font-weight="bold" >This Study (GPa)</text>
<rect x="1530" y="2219.6" width="277" height="4" fill="#555"/>
<text x="1616.5" y="2259.8" font-size="33.0" text-anchor="start" font-family="'Liberation Sans', Arial, sans-serif" font-weight="bold" >6</text>
<text x="1616.5" y="2305.7" font-size="33.0" text-anchor="start" font-family="'Liberation Sans', Arial, sans-serif" font-weight="bold" >8</text>
<text x="1616.5" y="2349.5" font-size="33.0" text-anchor="start" font-family="'Liberation Sans', Arial, sans-serif" font-weight="bold" >10</text>
<text x="1616.5" y="2395.5" font-size="33.0" text-anchor="start" font-family="'Liberation Sans', Arial, sans-serif" font-weight="bold" >12</text>
<text x="505.0" y="2465.0" font-size="168.0" text-anchor="start" font-family="'Liberation Sans', Arial, sans-serif" font-weight="bold" >Au</text>
<text x="1127" y="3823" font-size="87" text-anchor="middle" font-family="'Liberation Serif', 'Times New Roman', serif" font-weight="bold"><tspan font-weight="normal">(</tspan>b<tspan font-weight="normal">)</tspan></text>
</svg>
</body></html>
